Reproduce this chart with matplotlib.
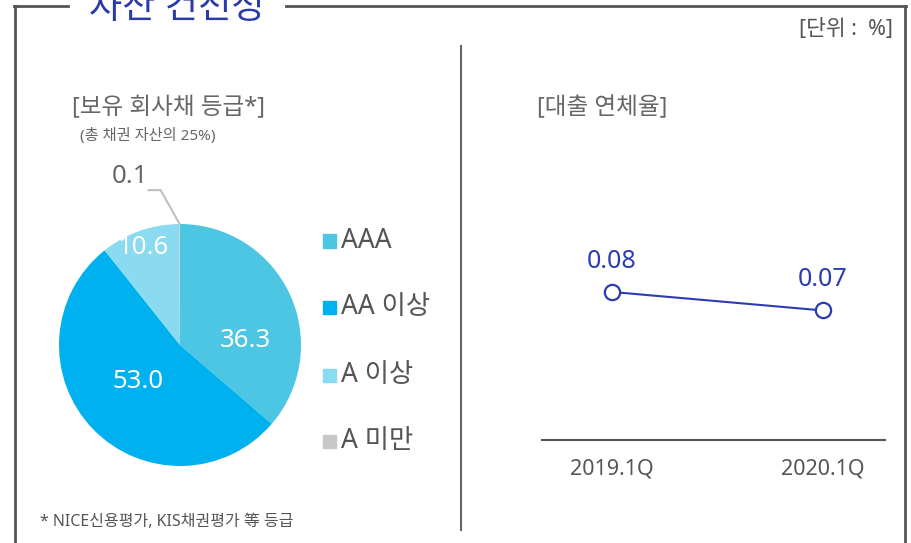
import matplotlib
matplotlib.use("Agg")
import matplotlib.pyplot as plt
import numpy as np

plt.rcParams['font.family'] = ['Noto Sans', 'Noto Sans CJK KR', 'DejaVu Sans']

# ---- data ----
grade_labels = ["AAA", "AA 이상", "A 이상", "A 미만"]
grade_values = [36.3, 53.0, 10.6, 0.1]
grade_colors = ["#4cc6e2", "#00b1ef", "#8adbef", "#c8c8c8"]

periods = ["2019.1Q", "2020.1Q"]
delinquency = [0.08, 0.07]

W, H = 912, 543
fig = plt.figure(figsize=(W / 100, H / 100), dpi=100)

def fx(px):
    return px / W

def fy(py):
    return 1 - py / H

# ---- frame ----
frame_col = "#555555"
fig.add_artist(plt.Line2D([fx(15), fx(15)], [fy(6), fy(543)], color=frame_col, lw=2))
fig.add_artist(plt.Line2D([fx(905), fx(905)], [fy(6), fy(543)], color=frame_col, lw=2))
fig.add_artist(plt.Line2D([fx(14), fx(68)], [fy(6), fy(6)], color=frame_col, lw=2))
fig.add_artist(plt.Line2D([fx(286), fx(906)], [fy(6), fy(6)], color=frame_col, lw=2))
fig.add_artist(plt.Line2D([fx(461), fx(461)], [fy(46), fy(530)], color="#666666", lw=1.5))

fig.text(fx(177), fy(9), "자산 건전성", fontsize=26, color="#2a3aa8",
         ha="center", va="center")
fig.text(fx(893), fy(30), "[단위 :  %]", fontsize=15.5, color="#555555",
         ha="right", va="center")

# ---- headings ----
fig.text(fx(72), fy(108), "[보유 회사채 등급*]", fontsize=17, color="#666666",
         ha="left", va="center")
fig.text(fx(80), fy(136), "(총 채권 자산의 25%)", fontsize=11, color="#666666",
         ha="left", va="center")
fig.text(fx(537), fy(108), "[대출 연체율]", fontsize=17, color="#666666",
         ha="left", va="center")
fig.text(fx(40), fy(522), "* NICE신용평가, KIS채권평가 等 등급", fontsize=11.5,
         color="#555555", ha="left", va="center")

# ---- pie ----
cx, cy, r = 180, 345, 121
axp = fig.add_axes([fx(cx - r), fy(cy + r), 2 * r / W, 2 * r / H])
wedges, _ = axp.pie(grade_values, colors=grade_colors, startangle=90,
                    counterclock=False, radius=1.0,
                    wedgeprops=dict(linewidth=0))
axp.set_xlim(-1, 1)
axp.set_ylim(-1, 1)
axp.axis("off")

label_r = [0.54, 0.46, 0.86]
label_dang = [-21, -3, 1]
for w, v, lr, da in zip(wedges[:3], grade_values[:3], label_r, label_dang):
    ang = np.deg2rad((w.theta1 + w.theta2) / 2 + da)
    axp.text(lr * np.cos(ang), lr * np.sin(ang), f"{v:.1f}", color="white",
             fontsize=18.5, ha="center", va="center")

# small slice label with leader
w = wedges[3]
ang = np.deg2rad((w.theta1 + w.theta2) / 2)
x0, y0 = np.cos(ang), np.sin(ang)
axp.plot([x0, -0.16, -0.26], [y0, 1.28, 1.28], color="#c0c0c0", lw=1.5,
         clip_on=False)
axp.text(-0.41, 1.39, f"{grade_values[3]:.1f}", color="#666666", fontsize=18.5,
         ha="center", va="center")

# legend
leg_y = [241, 307, 375, 441]
for lab, col, yy in zip(grade_labels, grade_colors, leg_y):
    fig.patches.append(plt.Rectangle((fx(323), fy(yy + 6.5)), 13 / W, 13 / H,
                                     transform=fig.transFigure, color=col))
    fig.text(fx(341), fy(yy), lab, fontsize=19, color="#555555",
             ha="left", va="center")

# ---- line chart ----
axl = fig.add_axes([fx(542), fy(440), (885 - 542) / W, (440 - 200) / H])
xs = np.arange(len(periods))
line_col = "#2b3bb0"
axl.plot(xs, delinquency, color=line_col, lw=1.5, marker="o", markersize=11,
         markerfacecolor="white", markeredgecolor=line_col, markeredgewidth=1.6,
         zorder=3)
for x, v in zip(xs, delinquency):
    axl.annotate(f"{v:.2f}", (x, v), xytext=(0, 22), textcoords="offset points",
                 ha="center", va="center", fontsize=18, color=line_col)
axl.set_xlim(-0.332, 1.294)
axl.set_ylim(0, 0.1297)
axl.set_xticks(xs)
axl.set_xticklabels(periods, fontsize=15.5, color="#555555")
axl.tick_params(axis="x", length=0, pad=13)
axl.set_yticks([])
for s in ["top", "right", "left"]:
    axl.spines[s].set_visible(False)
axl.spines["bottom"].set_color("#555555")
axl.spines["bottom"].set_linewidth(1.5)
axl.patch.set_alpha(0)

fig.savefig("out.png", dpi=100)
